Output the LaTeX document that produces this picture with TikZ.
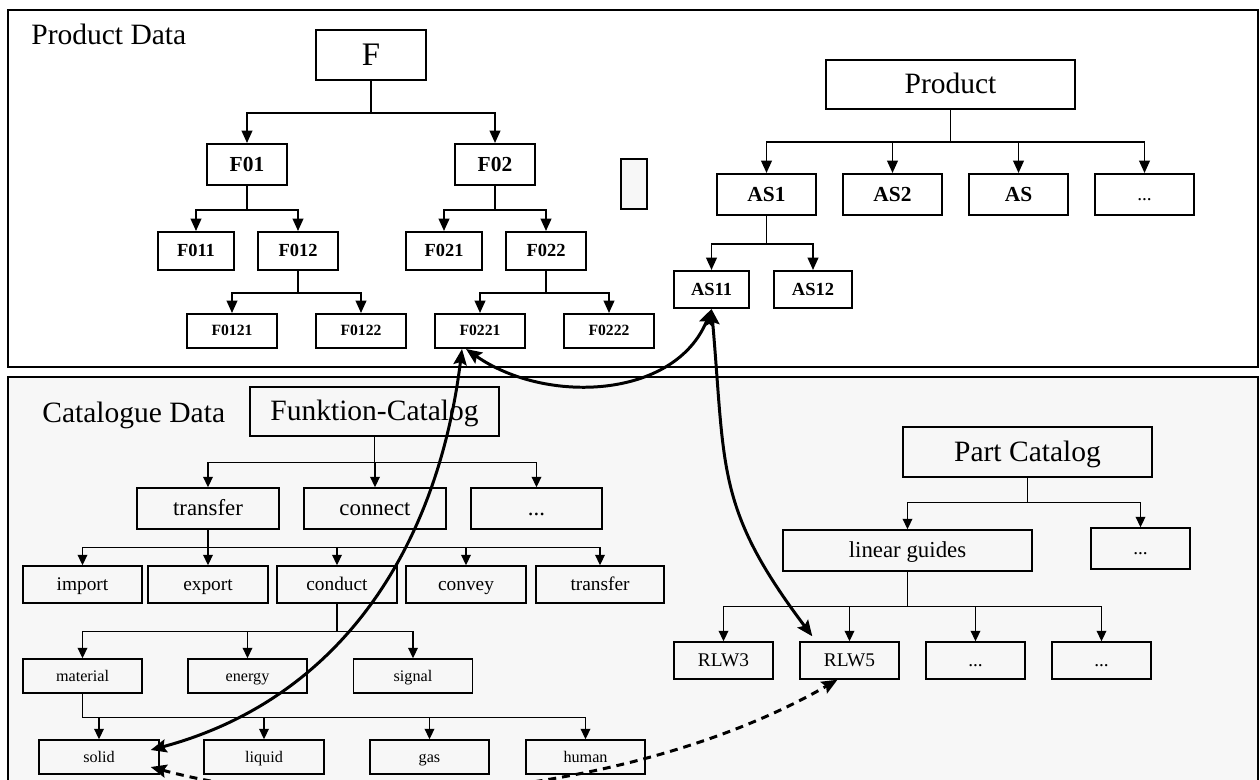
\documentclass[tikz,border=0pt]{standalone}
\usepackage{fontspec}
\setmainfont{Liberation Serif}
\usetikzlibrary{arrows.meta,calc}
\definecolor{panel}{HTML}{F7F7F7}

\begin{document}
\begin{tikzpicture}[x=0.02cm, y=0.02cm,
    sz/.style 2 args={minimum width=#1*0.02cm, minimum height=#2*0.02cm},
    pbox/.style={draw, line width=1.1pt, inner sep=0pt, fill=white},
    cbox/.style={draw, line width=0.8pt, inner sep=0pt, fill=panel},
    tarr/.style={line width=1.1pt, -{Triangle[length=7pt,width=6pt]}},
    carr/.style={line width=0.8pt, -{Triangle[length=6pt,width=5.5pt]}},
    link/.style={line width=1.7pt, {Stealth[length=9pt,width=7.5pt,inset=1.5pt]}-{Stealth[length=9pt,width=7.5pt,inset=1.5pt]}},
    fA/.style={font=\fontsize{16.8}{18}\selectfont, text height=12.1pt, text depth=1.7pt},
    fB/.style={font=\fontsize{13}{15}\selectfont, text height=9.4pt, text depth=1.3pt},
    fC/.style={font=\fontsize{11}{13}\selectfont, text height=7.9pt, text depth=1.1pt},
    fD/.style={font=\fontsize{9.2}{11}\selectfont, text height=6.6pt, text depth=0.9pt},
    bA/.style={font=\fontsize{12.2}{14}\selectfont\bfseries, text height=8.8pt, text depth=1.2pt},
    bB/.style={font=\fontsize{10.5}{12}\selectfont\bfseries, text height=7.6pt, text depth=1pt},
    bC/.style={font=\fontsize{8.9}{10}\selectfont\bfseries, text height=6.4pt, text depth=0.9pt}]
    \useasboundingbox (0,0) rectangle (1260,-780);
    \clip (0,0) rectangle (1260,-780);

    % the two panels
    \draw[line width=1.1pt] (8,-10) rectangle (1258,-367);
    \draw[line width=1.1pt, fill=panel] (8,-377) rectangle (1258,-820);
    \node[fA, anchor=base west, inner sep=0pt] (pdata) at (31,-45) {Product Data};
    \node[fA, anchor=base west, inner sep=0pt] (cdata) at (42,-422) {Catalogue Data};

    % function tree
    \node[pbox, sz={110}{50}, font=\fontsize{18.7}{20}\selectfont] (F) at (371,-55) {F};
    \node[pbox, sz={80}{41}, bA] (F01) at (247,-164.5) {F01};
    \node[pbox, sz={80}{41}, bA] (F02) at (495,-164.5) {F02};
    \node[pbox, sz={76}{38}, bB] (F011) at (196,-251) {F011};
    \node[pbox, sz={80}{38}, bB] (F012) at (298,-251) {F012};
    \node[pbox, sz={76}{38}, bB] (F021) at (444,-251) {F021};
    \node[pbox, sz={80}{38}, bB] (F022) at (546,-251) {F022};
    \node[pbox, sz={90}{34}, bC] (F0121) at (232,-331) {F0121};
    \node[pbox, sz={90}{34}, bC] (F0122) at (361,-331) {F0122};
    \node[pbox, sz={90}{34}, bC] (F0221) at (480,-331) {F0221};
    \node[pbox, sz={90}{34}, bC] (F0222) at (609,-331) {F0222};
    \node[pbox, sz={26}{50}, fill=panel, line width=0.9pt] (gap) at (634,-184) {};

    \foreach \c in {F01,F02} \draw[tarr] (F.south) -- ++(0,-32) -| (\c.north);
    \foreach \c in {F011,F012} \draw[tarr] (F01.south) -- ++(0,-24) -| (\c.north);
    \foreach \c in {F021,F022} \draw[tarr] (F02.south) -- ++(0,-24) -| (\c.north);
    \foreach \c in {F0121,F0122} \draw[tarr] (F012.south) -- ++(0,-22) -| (\c.north);
    \foreach \c in {F0221,F0222} \draw[tarr] (F022.south) -- ++(0,-22) -| (\c.north);

    % product tree
    \node[pbox, sz={249}{49}, fA] (prod) at (950.5,-84.5) {Product};
    \node[pbox, sz={99}{41}, bA] (AS1) at (766.5,-194.5) {AS1};
    \node[pbox, sz={99}{41}, bA] (AS2) at (892.5,-194.5) {AS2};
    \node[pbox, sz={99}{41}, bA] (AS) at (1018.5,-194.5) {AS};
    \node[pbox, sz={99}{41}, fC] (ASx) at (1144.5,-194.5) {...};
    \node[pbox, sz={75}{37}, bB] (AS11) at (711.5,-289.5) {AS11};
    \node[pbox, sz={78}{37}, bB] (AS12) at (813,-289.5) {AS12};

    \foreach \c in {AS1,AS2,AS,ASx} \draw[tarr] (prod.south) -- ++(0,-32) -| (\c.north);
    \foreach \c in {AS11,AS12} \draw[tarr] (AS1.south) -- ++(0,-28) -| (\c.north);

    % function catalogue
    \node[cbox, sz={249}{49}, fA] (fcat) at (374.5,-411.5) {Funktion-Catalog};
    \node[cbox, sz={142}{41}, fB] (transfer) at (208,-508.5) {transfer};
    \node[cbox, sz={142}{41}, fB] (connect) at (375,-508.5) {connect};
    \node[cbox, sz={131}{41}, fB] (fcatx) at (536.5,-508.5) {...};
    \node[cbox, sz={119}{37}, fC] (import) at (82.5,-584.5) {import};
    \node[cbox, sz={120}{37}, fC] (export) at (208,-584.5) {export};
    \node[cbox, sz={120}{37}, fC] (conduct) at (337,-584.5) {conduct};
    \node[cbox, sz={120}{37}, fC] (convey) at (466,-584.5) {convey};
    \node[cbox, sz={128}{37}, fC] (transferb) at (600,-584.5) {transfer};
    \node[cbox, sz={119}{34}, fD] (material) at (82.5,-676) {material};
    \node[cbox, sz={119}{34}, fD] (energy) at (247.5,-676) {energy};
    \node[cbox, sz={119}{34}, fD] (signal) at (413,-676) {signal};
    \node[cbox, sz={120}{34}, fD] (solid) at (99,-757) {solid};
    \node[cbox, sz={120}{34}, fD] (liquid) at (264,-757) {liquid};
    \node[cbox, sz={119}{34}, fD] (gas) at (429.5,-757) {gas};
    \node[cbox, sz={119}{34}, fD] (human) at (585.5,-757) {human};

    \foreach \c in {transfer,connect,fcatx} \draw[carr] (fcat.south) -- ++(0,-26) -| (\c.north);
    \foreach \c in {import,export,conduct,convey,transferb} \draw[carr] (transfer.south) -- ++(0,-18) -| (\c.north);
    \foreach \c in {material,energy,signal} \draw[carr] (conduct.south) -- ++(0,-28) -| (\c.north);
    \foreach \c in {solid,liquid,gas,human} \draw[carr] (material.south) -- ++(0,-24) -| (\c.north);

    % part catalogue
    \node[cbox, sz={249}{50}, fA] (pcat) at (1027.5,-452) {Part Catalog};
    \node[cbox, sz={249}{41}, fB] (linear) at (907.5,-550.5) {linear guides};
    \node[cbox, sz={99}{41}, fC] (pcatx) at (1140.5,-548.5) {...};
    \node[cbox, sz={99}{37}, fC] (RLW3) at (723.5,-660.5) {RLW3};
    \node[cbox, sz={99}{37}, fC] (RLW5) at (849.5,-660.5) {RLW5};
    \node[cbox, sz={99}{37}, fC] (RLWx) at (975.5,-660.5) {...};
    \node[cbox, sz={99}{37}, fC] (RLWy) at (1101.5,-660.5) {...};

    \foreach \c in {linear,pcatx} \draw[carr] (pcat.south) -- ++(0,-25) -| (\c.north);
    \foreach \c in {RLW3,RLW5,RLWx,RLWy} \draw[carr] (linear.south) -- ++(0,-35) -| (\c.north);

    % links between product and catalogue data
    \draw[link] ($(F0221.south)+(-14,0)$) to[out=-35, in=-112] (AS11.south);
    \draw[link] ($(F0221.south)+(-18,0)$) to[out=-97, in=15] ($(solid.east)+(-9,7)$);
    \draw[link] (AS11.south) to[out=-85, in=127, looseness=1.2] ($(RLW5.north west)+(13,5)$);
    \draw[link, dash pattern=on 4.5pt off 3.4pt] ($(solid.east)+(-9,-10)$) to[out=-15, in=-150, looseness=0.8] ($(RLW5.south)+(-12,0)$);
\end{tikzpicture}
\end{document}
